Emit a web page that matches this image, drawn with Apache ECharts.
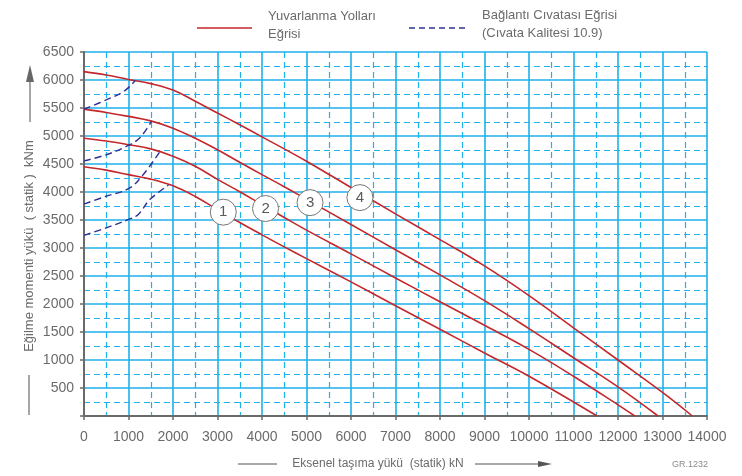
<!DOCTYPE html>
<html>
<head>
<meta charset="utf-8">
<script src="https://cdn.jsdelivr.net/npm/echarts@6/dist/echarts.min.js"></script>
<style>
  html, body { margin: 0; padding: 0; background: #fff; }
  #chart { width: 742px; height: 476px; }
</style>
</head>
<body>
<div id="chart"></div>
<script>
// Axis ranges (kN on x, kNm on y)
const xMax = 14000, xStep = 1000;
const yMax = 6500, yStep = 500;

// Raceway (rolling path) capacity curves, [axial load kN, moment kNm]
const raceway1 = [[0,4450],[500,4390],[1000,4310],[1500,4230],[2000,4110],[2500,3920],[3000,3685],[3500,3455],[4000,3235],[4500,3020],[5000,2810],[6000,2395],[7000,1970],[8000,1550],[9000,1125],[10000,710],[11000,250],[11530,0]];
const raceway2 = [[0,4960],[500,4910],[1000,4845],[1500,4770],[2000,4640],[2500,4460],[3000,4225],[3500,4005],[4000,3775],[4500,3545],[5000,3320],[6000,2895],[7000,2465],[8000,2040],[9000,1620],[10000,1190],[11000,710],[12000,200],[12380,0]];
const raceway3 = [[0,5480],[500,5420],[1000,5350],[1500,5270],[2000,5140],[2500,4960],[3000,4755],[3500,4530],[4000,4310],[4500,4095],[5000,3870],[6000,3420],[7000,2970],[8000,2520],[9000,2060],[10000,1560],[11000,1040],[12000,520],[12900,0]];
const raceway4 = [[0,6150],[500,6090],[1000,6010],[1500,5935],[2000,5820],[2500,5620],[3000,5410],[3500,5200],[4000,4985],[4500,4770],[5000,4550],[6000,4080],[7000,3610],[8000,3150],[9000,2680],[10000,2150],[11000,1575],[12000,1000],[13000,420],[13670,0]];

// Bolt curves (grade 10.9)
const bolt1 = [[0,3225],[500,3360],[1000,3510],[1220,3600],[1480,3865],[1900,4125]];
const bolt2 = [[0,3785],[500,3925],[1000,4060],[1300,4280],[1700,4715]];
const bolt3 = [[0,4555],[500,4665],[950,4815],[1250,4965],[1520,5265]];
const bolt4 = [[0,5480],[500,5645],[900,5800],[1150,5990]];

// Curve number markers, placed on each raceway curve
const markerNames = ['1', '2', '3', '4'];
const markerPoints = [[3130,3640],[4080,3705],[5080,3810],[6200,3900]];

const racewayName = 'Yuvarlanma Yolları Eğrisi';
const boltName = 'Bağlantı Cıvatası Eğrisi (Cıvata Kalitesi 10.9)';

const RED = '#c3282c';
const NAVY = '#2e3192';
const GRID_BLUE = '#1fb1ea';
const TEXT = '#6b6b6b';
const FONT = 'Liberation Sans, Arial, sans-serif';

const chart = echarts.init(document.getElementById('chart'), null, { renderer: 'canvas' });

function racewaySeries(data) {
  return {
    type: 'line', name: racewayName, data: data,
    smooth: 0.4, symbol: 'none', z: 3,
    lineStyle: { color: RED, width: 1.6 }
  };
}
function boltSeries(data) {
  return {
    type: 'line', name: boltName, data: data,
    smooth: 0.4, symbol: 'none', z: 4,
    lineStyle: { color: NAVY, width: 1.4, type: [7, 4] }
  };
}

const option = {
  animation: false,
  backgroundColor: '#ffffff',
  textStyle: { fontFamily: FONT },
  grid: { left: 84, right: 35, top: 52, bottom: 60, containLabel: false },
  xAxis: {
    type: 'value', min: 0, max: xMax, interval: xStep,
    axisLine: { show: true, onZero: false, lineStyle: { color: '#6a6a6a', width: 2 } },
    axisTick: { show: true, length: 4, lineStyle: { color: '#6a6a6a', width: 1.5 } },
    axisLabel: { color: TEXT, fontSize: 14, margin: 14, fontFamily: FONT,
      formatter: function (v) { return String(v); } },
    splitLine: { show: true, lineStyle: { color: GRID_BLUE, width: 1.6 } },
    minorTick: { show: true, splitNumber: 2, length: 0 },
    minorSplitLine: { show: true, lineStyle: { color: GRID_BLUE, width: 1.2, type: [6, 4] } }
  },
  yAxis: {
    type: 'value', min: 0, max: yMax, interval: yStep,
    axisLine: { show: true, onZero: false, lineStyle: { color: '#6a6a6a', width: 2 } },
    axisTick: { show: true, length: 4, lineStyle: { color: '#6a6a6a', width: 1.5 } },
    axisLabel: {
      color: TEXT, fontSize: 14, margin: 10, fontFamily: FONT,
      formatter: function (v) { return v === 0 ? '' : String(v); }
    },
    splitLine: { show: true, lineStyle: { color: GRID_BLUE, width: 1.6 } },
    minorTick: { show: true, splitNumber: 2, length: 0 },
    minorSplitLine: { show: true, lineStyle: { color: GRID_BLUE, width: 1.2, type: [6, 4] } }
  },
  series: [
    racewaySeries(raceway1), racewaySeries(raceway2),
    racewaySeries(raceway3), racewaySeries(raceway4),
    boltSeries(bolt1), boltSeries(bolt2), boltSeries(bolt3), boltSeries(bolt4),
    {
      type: 'scatter', name: 'markers', z: 6,
      data: markerPoints.map(function (p, i) { return { value: p, name: markerNames[i] }; }),
      symbol: 'circle', symbolSize: 26,
      itemStyle: { color: '#ffffff', borderColor: '#777777', borderWidth: 1, opacity: 1 },
      label: {
        show: true, position: 'inside', formatter: '{b}',
        color: '#5a5a5a', fontSize: 15, fontFamily: FONT
      },
      emphasis: { disabled: true }
    }
  ],
  graphic: [
    // legend: raceway curve
    { type: 'line', shape: { x1: 197, y1: 28, x2: 252, y2: 28 }, style: { stroke: RED, lineWidth: 1.6 } },
    { type: 'text', left: 268, top: 7, style: { text: 'Yuvarlanma Yolları\nEğrisi', font: '13px ' + FONT, fill: TEXT, lineHeight: 18 } },
    // legend: bolt curve
    { type: 'line', shape: { x1: 409, y1: 28, x2: 466, y2: 28 }, style: { stroke: NAVY, lineWidth: 1.4, lineDash: [6, 4] } },
    { type: 'text', left: 482, top: 6, style: { text: 'Bağlantı Cıvatası Eğrisi\n(Cıvata Kalitesi 10.9)', font: '13px ' + FONT, fill: TEXT, lineHeight: 18 } },

    // x-axis title with leading rule and arrow
    { type: 'line', shape: { x1: 238, y1: 464, x2: 277, y2: 464 }, style: { stroke: '#555', lineWidth: 1 } },
    { type: 'text', x: 378, y: 464, style: { text: 'Eksenel taşıma yükü  (statik) kN', font: '12px ' + FONT, fill: TEXT, align: 'center', verticalAlign: 'middle' } },
    { type: 'line', shape: { x1: 475, y1: 464, x2: 540, y2: 464 }, style: { stroke: '#555', lineWidth: 1 } },
    { type: 'polygon', shape: { points: [[538, 461], [552, 464], [538, 467]] }, style: { fill: '#555' } },

    // y-axis title with arrow above and rule below
    { type: 'text', x: 29, y: 246, rotation: Math.PI / 2,
      style: { text: 'Eğilme momenti yükü  ( statik )  kNm', font: '13px ' + FONT, fill: TEXT, align: 'center', verticalAlign: 'middle' } },
    { type: 'line', shape: { x1: 30, y1: 78, x2: 30, y2: 122 }, style: { stroke: '#888', lineWidth: 1.5 } },
    { type: 'polygon', shape: { points: [[26, 82], [30, 65], [34, 82]] }, style: { fill: '#666' } },
    { type: 'line', shape: { x1: 29, y1: 375, x2: 29, y2: 415 }, style: { stroke: '#888', lineWidth: 1.5 } },

    // drawing reference
    { type: 'text', left: 672, top: 460, style: { text: 'GR.1232', font: '9px ' + FONT, fill: '#8a8a8a' } }
  ]
};

chart.setOption(option);
</script>
</body>
</html>
